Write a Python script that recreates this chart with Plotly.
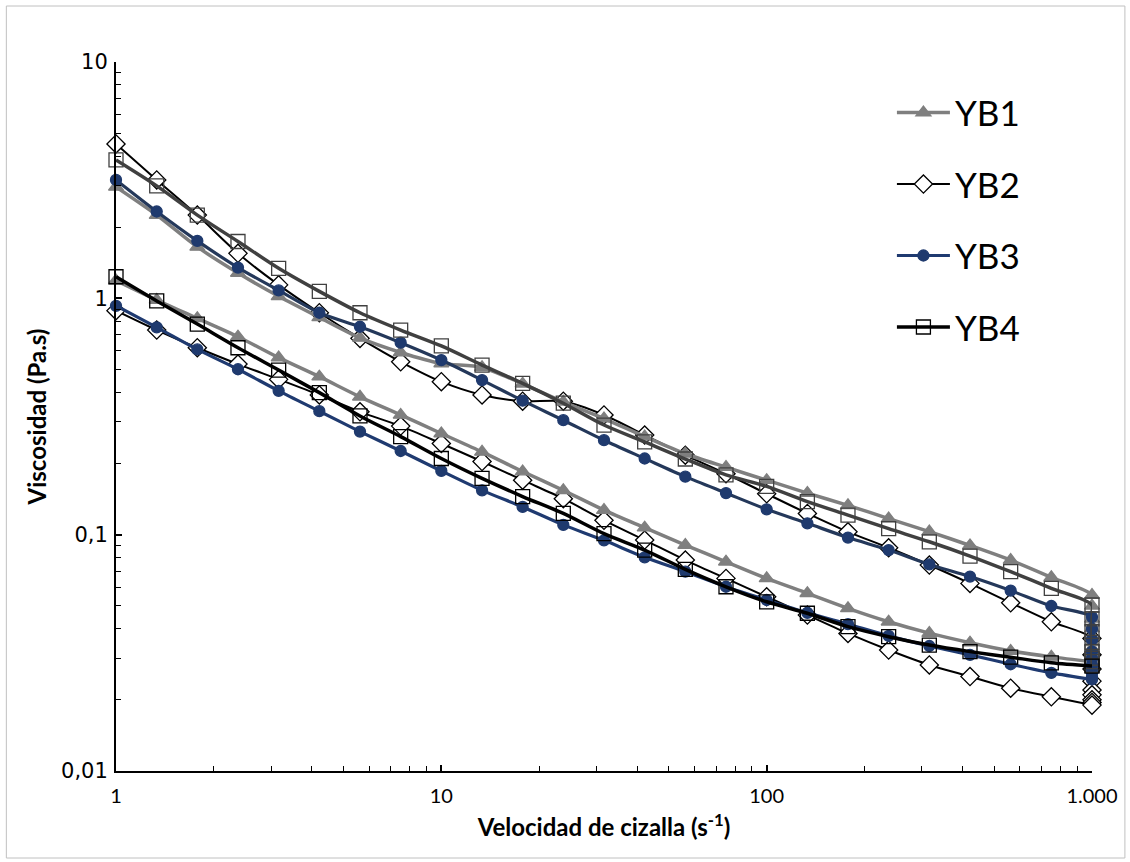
import plotly.graph_objects as go

# Shear rate (s^-1), 8 points per decade
shear_rate = [1, 1.334, 1.778, 2.371, 3.162, 4.217, 5.623, 7.499, 10, 13.34, 17.78, 23.71,
              31.62, 42.17, 56.23, 74.99, 100, 133.4, 177.8, 237.1, 316.2, 421.7, 562.3, 749.9, 1000]

# Up-sweep viscosities (Pa.s), ordered by increasing shear rate
yb1_up = [2.96, 2.25, 1.65, 1.28, 1.02, 0.83, 0.68, 0.59, 0.53, 0.51, 0.435, 0.365, 0.31,
          0.26, 0.22, 0.193, 0.170, 0.150, 0.133, 0.117, 0.103, 0.090, 0.078, 0.066, 0.0555]
yb2_up = [4.50, 3.17, 2.25, 1.55, 1.14, 0.869, 0.677, 0.539, 0.444, 0.390, 0.367, 0.367, 0.321,
          0.264, 0.217, 0.181, 0.149, 0.123, 0.1028, 0.088, 0.0744, 0.0622, 0.0515, 0.0428, 0.0364]
yb3_up = [3.17, 2.33, 1.75, 1.35, 1.08, 0.869, 0.758, 0.649, 0.548, 0.451, 0.369, 0.305, 0.251,
          0.210, 0.176, 0.150, 0.128, 0.1117, 0.0972, 0.0861, 0.0748, 0.0665, 0.058, 0.0499, 0.0448]
yb4_up = [3.85, 2.99, 2.25, 1.74, 1.34, 1.07, 0.869, 0.734, 0.629, 0.522, 0.437, 0.360, 0.291,
          0.247, 0.209, 0.179, 0.160, 0.138, 0.121, 0.106, 0.0933, 0.0812, 0.0697, 0.0593, 0.0504]

# Holding step at 1000 s^-1 (viscosity decay)
yb1_hold = [0.050, 0.044, 0.040, 0.037, 0.035, 0.033, 0.032, 0.031, 0.030]
yb2_hold = [0.031, 0.027, 0.024, 0.022, 0.021, 0.020, 0.0195]
yb3_hold = [0.040, 0.036, 0.032, 0.030, 0.028, 0.027, 0.026, 0.025]
yb4_hold = [0.044, 0.039, 0.035, 0.032, 0.030, 0.029, 0.028]

# Down-sweep viscosities (Pa.s), ordered by increasing shear rate
yb1_down = [1.19, 0.984, 0.823, 0.688, 0.561, 0.466, 0.383, 0.321, 0.268, 0.224, 0.185, 0.154, 0.127,
            0.107, 0.0904, 0.0768, 0.0653, 0.0565, 0.0488, 0.0428, 0.0383, 0.0349, 0.0322, 0.0304, 0.029]
yb2_down = [0.887, 0.734, 0.618, 0.527, 0.454, 0.390, 0.331, 0.288, 0.243, 0.204, 0.170, 0.142, 0.115,
            0.0949, 0.0781, 0.0653, 0.0546, 0.0457, 0.0382, 0.0325, 0.0281, 0.0251, 0.0224, 0.0206, 0.019]
yb3_down = [0.93, 0.754, 0.608, 0.501, 0.406, 0.333, 0.273, 0.226, 0.186, 0.154, 0.131, 0.110, 0.0946,
            0.0802, 0.0697, 0.0602, 0.0529, 0.0467, 0.0418, 0.0373, 0.0338, 0.031, 0.0283, 0.026, 0.0244]
yb4_down = [1.234, 0.975, 0.778, 0.618, 0.497, 0.399, 0.318, 0.260, 0.210, 0.173, 0.145, 0.123, 0.101,
            0.0861, 0.0713, 0.0602, 0.052, 0.0465, 0.0408, 0.037, 0.0341, 0.032, 0.0303, 0.0287, 0.0278]

series_names = ["YB1", "YB2", "YB3", "YB4"]
x_tickvals = [1, 10, 100, 1000]
x_ticktext = ["1", "10", "100", "1.000"]
y_tickvals = [0.01, 0.1, 1, 10]
y_ticktext = ["0,01", "0,1", "1", "10"]

styles = {
    "YB1": dict(up_color="#7f7f7f", down_color="#7f7f7f", width=3.5, symbol="triangle-up",
                msize=13, mfill="#7f7f7f", mline="#7f7f7f"),
    "YB2": dict(up_color="#000000", down_color="#000000", width=2, symbol="diamond",
                msize=14, mfill="#ffffff", mline="#000000"),
    "YB3": dict(up_color="#24385a", down_color="#1f3a70", width=3.2, symbol="circle",
                msize=11, mfill="#1f3a6e", mline="#1f3a6e"),
    "YB4": dict(up_color="#404040", down_color="#000000", width=3.5, symbol="square-open",
                msize=14, mfill="rgba(0,0,0,0)", mline=None),
}
data = {
    "YB1": (yb1_up, yb1_hold, yb1_down),
    "YB2": (yb2_up, yb2_hold, yb2_down),
    "YB3": (yb3_up, yb3_hold, yb3_down),
    "YB4": (yb4_up, yb4_hold, yb4_down),
}

fig = go.Figure()
draw_order = ["YB2", "YB1", "YB3", "YB4"]
legend_rank = {n: i + 1 for i, n in enumerate(series_names)}
for name in draw_order:
    st = styles[name]
    up, hold, down = data[name]
    # up sweep + hold
    xu = list(shear_rate) + [shear_rate[-1]] * len(hold)
    yu = list(up) + list(hold)
    up_mline = st["mline"] if st["mline"] else st["up_color"]
    fig.add_trace(go.Scatter(
        x=xu, y=yu, mode="lines+markers", showlegend=False, cliponaxis=False,
        line=dict(color=st["up_color"], width=st["width"], shape="spline", smoothing=0.8),
        marker=dict(symbol=st["symbol"], size=st["msize"],
                    color=st["mfill"] if st["symbol"] != "square-open" else st["up_color"],
                    line=dict(color=up_mline, width=1.3)),
        legendgroup=name,
    ))
    # down sweep (from 1000 back to 1)
    xd = list(reversed(shear_rate))
    yd = list(reversed(down))
    dn_mline = st["mline"] if st["mline"] else st["down_color"]
    fig.add_trace(go.Scatter(
        x=xd, y=yd, mode="lines+markers", name=name, cliponaxis=False,
        legendrank=legend_rank[name], legendgroup=name,
        line=dict(color=st["down_color"], width=st["width"], shape="spline", smoothing=0.8),
        marker=dict(symbol=st["symbol"], size=st["msize"],
                    color=st["mfill"] if st["symbol"] != "square-open" else st["down_color"],
                    line=dict(color=dn_mline, width=1.3)),
    ))

minor_x = [m * 10 ** d for d in range(0, 3) for m in range(2, 10)]
minor_y = [m * 10 ** d for d in range(-2, 1) for m in range(2, 10)]

fig.update_xaxes(
    type="log", range=[0, 3], showline=True, linecolor="#000000", linewidth=2,
    showgrid=False, zeroline=False, ticks="inside", ticklen=6, tickwidth=1.5, tickcolor="#000000",
    tickmode="array", tickvals=x_tickvals, ticktext=x_ticktext, ticklabelstandoff=6,
    tickfont=dict(family="Lato", size=20, color="#000000"),
    minor=dict(tickmode="array", tickvals=minor_x, ticks="inside", ticklen=5, tickwidth=1.2,
               tickcolor="#000000", showgrid=False),
    title=dict(text="<b>Velocidad de cizalla (s<sup>-1</sup>)</b>",
               font=dict(family="Lato", size=24, color="#000000"), standoff=13),
)
fig.update_yaxes(
    type="log", range=[-2, 1], showline=True, linecolor="#000000", linewidth=2,
    showgrid=False, zeroline=False, ticks="inside", ticklen=6, tickwidth=1.5, tickcolor="#000000",
    tickmode="array", tickvals=y_tickvals, ticktext=y_ticktext, ticklabelstandoff=2,
    tickfont=dict(family="DejaVu Sans", size=21, color="#000000"),
    minor=dict(tickmode="array", tickvals=minor_y, ticks="inside", ticklen=5, tickwidth=1.2,
               tickcolor="#000000", showgrid=False),
    title=dict(text="<b>Viscosidad (Pa.s)</b>",
               font=dict(family="Lato", size=24, color="#000000"), standoff=8),
)

fig.update_layout(
    width=1130, height=862,
    margin=dict(l=116, r=35, t=62, b=91),
    paper_bgcolor="#ffffff", plot_bgcolor="#ffffff",
    font=dict(family="Lato", color="#000000"),
    legend=dict(x=0.795, y=0.97, xanchor="left", yanchor="top",
                font=dict(family="Lato", size=35, color="#000000"),
                traceorder="grouped", tracegroupgap=23, itemwidth=53,
                bgcolor="rgba(0,0,0,0)"),
    shapes=[dict(type="rect", xref="paper", yref="paper",
                 x0=(6 - 116) / 979, x1=(1128 - 116) / 979,
                 y0=(771 - 858) / 709, y1=(771 - 6) / 709,
                 line=dict(color="#c0c0c0", width=1), layer="below")],
)

fig.write_html("out.html")
